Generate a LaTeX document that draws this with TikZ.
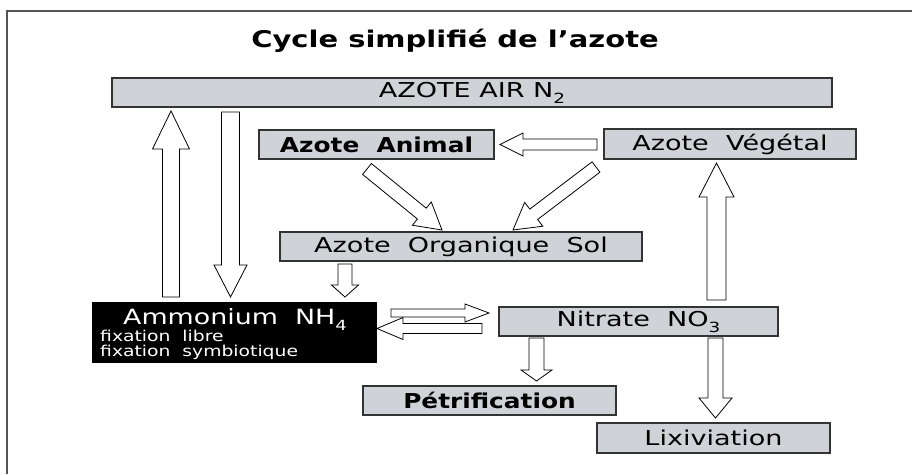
\documentclass[tikz,border=0pt]{standalone}
\usepackage{fontspec}
\usetikzlibrary{calc}
\newfontfamily\bx{DejaVu Sans}[FakeStretch=1.32]
\newfontfamily\bb{DejaVu Sans Bold}[FakeStretch=1.21]
\newfontfamily\amf{DejaVu Sans}[FakeStretch=1.28]
\newfontfamily\sx{DejaVu Sans}[FakeStretch=1.25]
\newfontfamily\ttl{DejaVu Sans Bold}[FakeStretch=1.26]
\definecolor{boxgray}{RGB}{207,211,215}
\definecolor{framegray}{RGB}{85,85,85}
\newcommand{\subtxt}[1]{\raisebox{-0.3em}{\fontsize{14}{14}\selectfont #1}}
\newcommand{\blockarr}[5]{%
  \path ($(#2)!#5!(#1)$) coordinate (hb);
  \draw[barrow] ($(#1)!#3!90:(#2)$) -- ($(hb)!#3!90:(#2)$) -- ($(hb)!#4!90:(#2)$) -- (#2)
     -- ($(hb)!#4!-90:(#2)$) -- ($(hb)!#3!-90:(#2)$) -- ($(#1)!#3!-90:(#2)$) -- cycle;
}
\begin{document}
\begin{tikzpicture}[x=1pt,y=-1pt,
  gbox/.style={draw=black!80, line width=1.1pt, fill=boxgray, inner sep=0pt,
    minimum height=29pt, font=\bx\fontsize{20.5}{20.5}\selectfont},
  boldtxt/.style={font=\bb\fontsize{20.5}{20.5}\selectfont},
  barrow/.style={draw=black, fill=white, line width=0.8pt, line join=miter},
  wtext/.style={text=white, inner sep=0pt},
  frameline/.style={draw=framegray, line width=1.5pt}]
\useasboundingbox (0,0) rectangle (912,474);
% frame
\coordinate (fr1) at (912,11);
\coordinate (fr2) at (7,11);
\coordinate (fr3) at (7,474);
\draw[frameline] (fr1) -- (fr2) -- (fr3);
% title
\node[font=\ttl\fontsize{23}{23}\selectfont, anchor=base, inner sep=0pt] (title) at (455,47) {Cycle simplifié de l’azote};
% boxes
\node[gbox, minimum width=720pt] (air) at (472,92.5) {AZOTE AIR N\subtxt{2}};
\node[gbox, boldtxt, minimum width=235pt] (animal) at (376.5,144.5) {Azote~~Animal};
\node[gbox, minimum width=252pt, minimum height=30pt] (vegetal) at (730,144) {Azote~~Végétal};
\node[gbox, minimum width=362pt] (org) at (461,246.5) {Azote~~Organique~~Sol};
\node[fill=black, draw=black, minimum width=284pt, minimum height=60pt, inner sep=0pt] (ammon) at (234,332) {};
\node[gbox, minimum width=279pt] (nitrate) at (638.5,321.5) {Nitrate~~NO\subtxt{3}};
\node[gbox, boldtxt, minimum width=253pt] (petri) at (489.5,400.5) {Pétrification};
\node[gbox, minimum width=233pt, minimum height=30pt] (lix) at (713.5,438) {Lixiviation};
% ammonium texts
\node[wtext, anchor=base, font=\amf\fontsize{21}{21}\selectfont] (amt) at (235,324) {Ammonium~~NH\subtxt{4}};
\node[wtext, anchor=base west, font=\sx\fontsize{15}{15}\selectfont] (fl) at (100,341) {fixation~~libre};
\node[wtext, anchor=base west, font=\sx\fontsize{15}{15}\selectfont] (fs) at (100,356) {fixation~~symbiotique};
% arrow end points
\coordinate (a1t) at (171,297);   \coordinate (a1h) at (171,111);
\coordinate (a2t) at (230.5,112); \coordinate (a2h) at (230.5,297);
\coordinate (a3t) at (597,144.5); \coordinate (a3h) at (500,144.5);
\coordinate (a4t) at (367,169);   \coordinate (a4h) at (442,230);
\coordinate (a5t) at (596,167);   \coordinate (a5h) at (513,230);
\coordinate (a6t) at (345,264);   \coordinate (a6h) at (345,297);
\coordinate (a7t) at (391,313);   \coordinate (a7h) at (489,313);
\coordinate (a8t) at (482,328.5); \coordinate (a8h) at (377,328.5);
\coordinate (a9t) at (716.5,300); \coordinate (a9h) at (716.5,163);
\coordinate (a10t) at (536.5,338); \coordinate (a10h) at (536.5,381);
\coordinate (a11t) at (715.5,338); \coordinate (a11h) at (715.5,418);
% arrows
\blockarr{a1t}{a1h}{8.5pt}{18.5pt}{38pt}
\blockarr{a2t}{a2h}{9pt}{16.5pt}{32pt}
\blockarr{a3t}{a3h}{5.5pt}{11.5pt}{23pt}
\blockarr{a4t}{a4h}{7pt}{15pt}{26pt}
\blockarr{a5t}{a5h}{6.5pt}{15pt}{26pt}
\blockarr{a6t}{a6h}{7pt}{13.5pt}{12pt}
\blockarr{a7t}{a7h}{4pt}{9pt}{24pt}
\blockarr{a8t}{a8h}{5pt}{11pt}{26pt}
\blockarr{a9t}{a9h}{9.5pt}{17.5pt}{34pt}
\blockarr{a10t}{a10h}{7.5pt}{15.5pt}{11pt}
\blockarr{a11t}{a11h}{7.5pt}{16.5pt}{20pt}
\end{tikzpicture}
\end{document}
